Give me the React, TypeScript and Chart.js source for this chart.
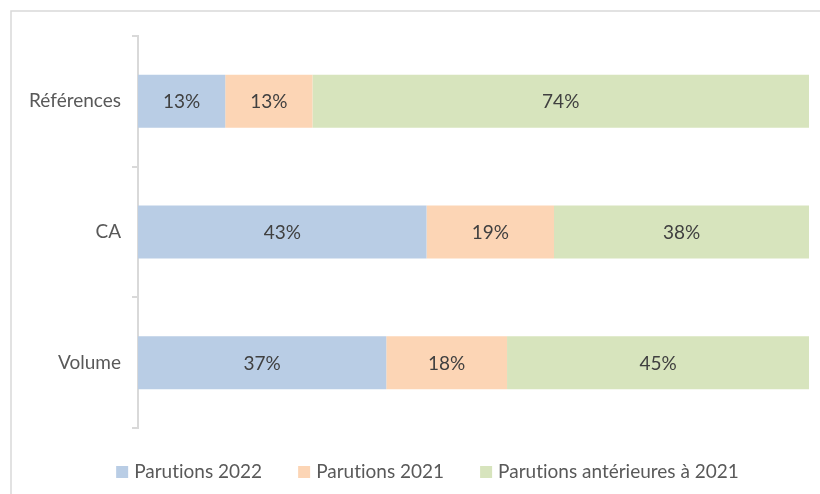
import React, { useEffect, useRef } from "react";
import { Chart, registerables } from "chart.js";

Chart.register(...registerables);

const categories = ["Références", "CA", "Volume"];
const seriesLabels = ["Parutions 2022", "Parutions 2021", "Parutions antérieures à 2021"];
const parutions2022 = [13, 43, 37];
const parutions2021 = [13, 19, 18];
const parutionsAnterieures = [74, 38, 45];

const FONT = "Lato";
const FONT_SIZE = 19;

const framePlugin = {
  id: "frame",
  beforeDraw(chart: any) {
    const ctx = chart.ctx;
    ctx.save();
    ctx.fillStyle = "#ffffff";
    ctx.fillRect(0, 0, chart.width, chart.height);
    ctx.strokeStyle = "#d9d9d9";
    ctx.lineWidth = 1.5;
    ctx.beginPath();
    ctx.moveTo(11, chart.height);
    ctx.lineTo(11, 11);
    ctx.lineTo(chart.width, 11);
    ctx.stroke();
    ctx.restore();
  },
};

const dataLabelPlugin = {
  id: "dataLabels",
  afterDatasetsDraw(chart: any) {
    const ctx = chart.ctx;
    ctx.save();
    ctx.font = `${FONT_SIZE}px ${FONT}`;
    ctx.fillStyle = "#404040";
    ctx.textAlign = "center";
    ctx.textBaseline = "middle";
    chart.data.datasets.forEach((ds: any, i: number) => {
      const meta = chart.getDatasetMeta(i);
      meta.data.forEach((el: any, j: number) => {
        const v = ds.data[j];
        const cx = (el.x + el.base) / 2;
        ctx.fillText(`${v}%`, cx, el.y + 1);
      });
    });
    ctx.restore();
  },
};

const legendPlugin = {
  id: "customLegend",
  afterDraw(chart: any) {
    const ctx = chart.ctx;
    ctx.save();
    ctx.font = `${FONT_SIZE}px ${FONT}`;
    try {
      ctx.textRendering = "optimizeSpeed";
    } catch (e) {}
    ctx.textBaseline = "middle";
    ctx.textAlign = "left";
    const box = 12;
    const boxGap = 6;
    const itemGap = 36;
    const items = chart.data.datasets.map((ds: any) => ({
      label: ds.label,
      color: ds.backgroundColor,
      w: ctx.measureText(ds.label).width,
    }));
    const total =
      items.reduce((s: number, it: any) => s + box + boxGap + it.w, 0) +
      itemGap * (items.length - 1);
    const centerX = 427.5;
    const y = 472;
    let x = centerX - total / 2;
    items.forEach((it: any) => {
      ctx.fillStyle = it.color;
      ctx.fillRect(x, y - box / 2, box, box);
      x += box + boxGap;
      ctx.fillStyle = "#595959";
      ctx.fillText(it.label, x, y);
      x += it.w + itemGap;
    });
    ctx.restore();
  },
};

export default function App() {
  const canvasRef = useRef<HTMLCanvasElement | null>(null);

  useEffect(() => {
    if (!canvasRef.current) return;
    Chart.defaults.font.family = FONT;
    const chart = new Chart(canvasRef.current, {
      type: "bar",
      data: {
        labels: categories,
        datasets: [
          {
            label: seriesLabels[0],
            data: parutions2022,
            backgroundColor: "#b9cde5",
            barPercentage: 0.405,
            categoryPercentage: 1,
          },
          {
            label: seriesLabels[1],
            data: parutions2021,
            backgroundColor: "#fcd5b5",
            barPercentage: 0.405,
            categoryPercentage: 1,
          },
          {
            label: seriesLabels[2],
            data: parutionsAnterieures,
            backgroundColor: "#d7e4bd",
            barPercentage: 0.405,
            categoryPercentage: 1,
          },
        ],
      },
      options: {
        indexAxis: "y",
        responsive: false,
        animation: false,
        devicePixelRatio: 1,
        layout: { padding: { top: 36, bottom: 66, right: 11, left: 0 } },
        plugins: {
          legend: { display: false },
          tooltip: { enabled: false },
        },
        scales: {
          x: {
            stacked: true,
            display: false,
            min: 0,
            max: 100,
          },
          y: {
            stacked: true,
            offset: true,
            afterFit(scale: any) {
              scale.width = 138;
            },
            grid: {
              display: true,
              offset: true,
              drawOnChartArea: false,
              drawTicks: true,
              tickLength: 6,
              color: "#d9d9d9",
              lineWidth: 2,
            },
            border: { display: true, color: "#d9d9d9", width: 2 },
            ticks: {
              padding: 11,
              color: "#595959",
              font: { family: FONT, size: FONT_SIZE },
            },
          },
        },
      },
      plugins: [framePlugin, dataLabelPlugin, legendPlugin],
    } as any);
    return () => chart.destroy();
  }, []);

  return (
    <div style={{ position: "fixed", left: 0, top: 0, width: 820, height: 494, background: "#fff" }}>
      <canvas ref={canvasRef} width={820} height={494} style={{ width: 820, height: 494, display: "block" }} />
    </div>
  );
}
